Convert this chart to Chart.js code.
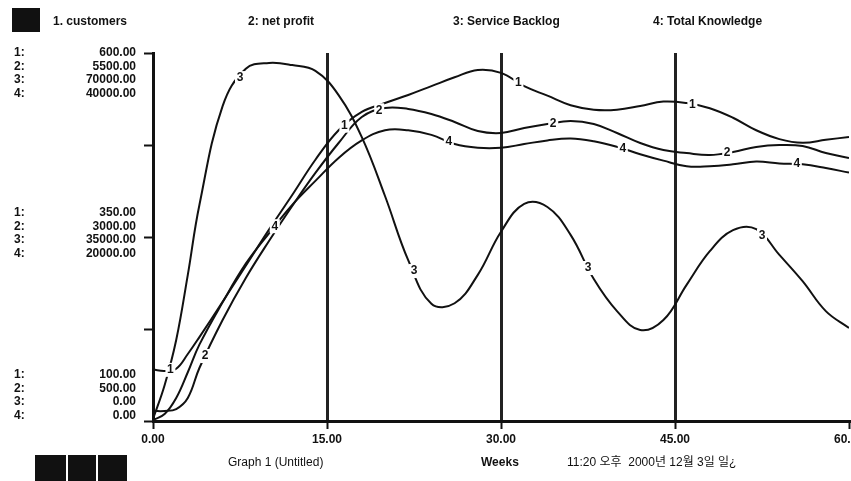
<!DOCTYPE html>
<html>
<head>
<meta charset="utf-8">
<script src="https://cdn.jsdelivr.net/npm/chart.js@4.4.0/dist/chart.umd.min.js"></script>
<style>
  html, body { margin: 0; padding: 0; background: #fff; }
</style>
</head>
<body>
<canvas id="graph" width="851" height="481"></canvas>
<script>
// weeks sampled along the run
const weeks = [0, 1, 2, 3, 4, 6, 8, 10, 12, 14, 16, 18, 20, 22, 24, 26, 28, 30,
  32, 34, 36, 38, 40, 42, 44, 46, 48, 50, 52, 54, 56, 58, 60];

const customers = [170, 168, 171, 191, 214, 262, 311, 360, 407, 455, 495, 520, 532, 543,
  555, 567, 577, 573, 555, 542, 529, 523, 523, 528, 534, 532, 525, 512, 495, 483, 478, 482, 486];

const netProfit = [636, 636, 663, 813, 1220, 1872, 2443, 2946, 3421, 3870, 4277, 4630, 4753,
  4740, 4671, 4563, 4440, 4413, 4481, 4535, 4576, 4535, 4413, 4277, 4182, 4141, 4114, 4155,
  4223, 4250, 4236, 4141, 4073];

const serviceBacklog = [380, 6800, 15400, 27800, 41100, 59900, 67000, 68100, 67700, 66600,
  62000, 54000, 42800, 30600, 22300, 22400, 27800, 36000, 41300, 40700, 35400, 27000, 20900,
  17300, 19200, 25900, 32300, 36300, 36500, 31600, 26600, 20900, 17700];

const totalKnowledge = [100, 760, 2500, 5300, 8300, 12900, 17100, 20400, 23500, 26100, 28600,
  30500, 31600, 31600, 31100, 30100, 29700, 29700, 30100, 30500, 30700, 30400, 29800, 29000,
  28300, 27700, 27700, 27900, 28200, 28000, 27900, 27500, 27000];

const seriesNames = ['1. customers', '2: net profit', '3: Service Backlog', '4: Total Knowledge'];
const scaleMin = [100, 500, 0, 0];
const scaleMax = [600, 5500, 70000, 40000];
const xTicks = [0, 15, 30, 45, 60];
const gridWeeks = [15, 30, 45];
// where the little series numbers sit on each curve
const labelWeeks = [[1.5, 16.5, 31.5, 46.5], [4.5, 19.5, 34.5, 49.5],
  [7.5, 22.5, 37.5, 52.5], [10.5, 25.5, 40.5, 55.5]];
const footerTexts = ['Graph 1 (Untitled)', 'Weeks', '11:20 오후  2000년 12월 3일 일¿'];

const fontFamily = '"Liberation Sans", Arial, "Noto Sans CJK KR", sans-serif';
const ink = '#111';

function makeSeries(values, axisId) {
  return {
    data: values.map((v, i) => ({ x: weeks[i], y: v })),
    yAxisID: axisId,
    borderColor: ink,
    borderWidth: 2,
    pointRadius: 0,
    tension: 0.4,
    fill: false
  };
}

// Stella style decorations: legend row, stacked axis labels, curve numbers, footer
const stellaDecor = {
  id: 'stellaDecor',
  afterDatasetsDraw(chart) {
    const ctx = chart.ctx;
    const xScale = chart.scales.x;
    ctx.save();
    ctx.font = 'bold 12px ' + fontFamily;
    ctx.textAlign = 'center';
    ctx.textBaseline = 'middle';
    labelWeeks.forEach((list, i) => {
      const pts = chart.getDatasetMeta(i).data;
      list.forEach(w => {
        let j = 0;
        while (j < weeks.length - 2 && weeks[j + 1] <= w) j++;
        const px = xScale.getPixelForValue(w);
        const t = (px - pts[j].x) / (pts[j + 1].x - pts[j].x);
        const py = pts[j].y + t * (pts[j + 1].y - pts[j].y);
        ctx.fillStyle = '#fff';
        ctx.fillRect(px - 5, py - 7, 10, 14);
        ctx.fillStyle = ink;
        ctx.fillText(String(i + 1), px, py);
      });
    });
    ctx.restore();
  },
  afterDraw(chart) {
    const ctx = chart.ctx;
    const y1 = chart.scales.y1;
    ctx.save();
    ctx.fillStyle = ink;
    ctx.font = 'bold 12px ' + fontFamily;
    ctx.textBaseline = 'middle';

    // legend row
    ctx.fillRect(12, 8, 28, 24);
    const legendX = [53, 248, 453, 653];
    ctx.textAlign = 'left';
    seriesNames.forEach((name, i) => ctx.fillText(name, legendX[i], 22));

    // stacked scale labels at top, middle and bottom of the axis
    const groups = [
      { frac: 1, shift: 0 },
      { frac: 0.5, shift: -24 },
      { frac: 0, shift: -46 }
    ];
    groups.forEach(g => {
      const base = y1.getPixelForValue(scaleMin[0] + g.frac * (scaleMax[0] - scaleMin[0])) + g.shift;
      for (let k = 0; k < 4; k++) {
        const val = scaleMin[k] + g.frac * (scaleMax[k] - scaleMin[k]);
        const yy = base + k * 13.5;
        ctx.textAlign = 'left';
        ctx.fillText((k + 1) + ':', 14, yy);
        ctx.textAlign = 'right';
        ctx.fillText(val.toFixed(2), 136, yy);
      }
    });

    // footer
    ctx.fillRect(35, 455, 31, 26);
    ctx.fillRect(68, 455, 28, 26);
    ctx.fillRect(98, 455, 29, 26);
    ctx.textAlign = 'left';
    ctx.font = '12px ' + fontFamily;
    ctx.fillText(footerTexts[0], 228, 463);
    ctx.font = 'bold 12px ' + fontFamily;
    ctx.fillText(footerTexts[1], 481, 463);
    ctx.font = '12px ' + fontFamily;
    ctx.fillText(footerTexts[2], 567, 463);
    ctx.restore();
  }
};

function hiddenAxis(k) {
  return { type: 'linear', display: false, min: scaleMin[k], max: scaleMax[k] };
}

new Chart(document.getElementById('graph').getContext('2d'), {
  type: 'line',
  data: {
    datasets: [
      makeSeries(customers, 'y1'),
      makeSeries(netProfit, 'y2'),
      makeSeries(serviceBacklog, 'y3'),
      makeSeries(totalKnowledge, 'y4')
    ]
  },
  options: {
    responsive: false,
    animation: false,
    devicePixelRatio: 1,
    layout: { padding: { top: 53, right: 2, left: 0, bottom: 0 } },
    plugins: { legend: { display: false }, tooltip: { enabled: false } },
    scales: {
      x: {
        type: 'linear',
        min: xTicks[0],
        max: xTicks[xTicks.length - 1],
        afterBuildTicks: s => { s.ticks = xTicks.map(v => ({ value: v })); },
        afterFit: s => { s.height = 60; s.paddingLeft = 0; s.paddingRight = 0; },
        ticks: {
          color: ink,
          padding: 3,
          maxRotation: 0,
          font: { family: fontFamily, size: 12, weight: 'bold' },
          callback: v => Number(v).toFixed(2)
        },
        grid: {
          color: c => (c.tick && gridWeeks.includes(c.tick.value)) ? '#222' : 'rgba(0,0,0,0)',
          lineWidth: 3,
          tickColor: ink,
          tickLength: 8,
          tickWidth: 2
        },
        border: { color: ink, width: 3 }
      },
      y1: {
        type: 'linear',
        position: 'left',
        min: scaleMin[0],
        max: scaleMax[0],
        afterFit: s => { s.width = 153; s.paddingTop = 0; s.paddingBottom = 0; },
        ticks: { display: false, stepSize: (scaleMax[0] - scaleMin[0]) / 4 },
        grid: { drawOnChartArea: false, tickColor: ink, tickLength: 9, tickWidth: 2 },
        border: { color: ink, width: 3 }
      },
      y2: hiddenAxis(1),
      y3: hiddenAxis(2),
      y4: hiddenAxis(3)
    }
  },
  plugins: [stellaDecor]
});
</script>
</body>
</html>
